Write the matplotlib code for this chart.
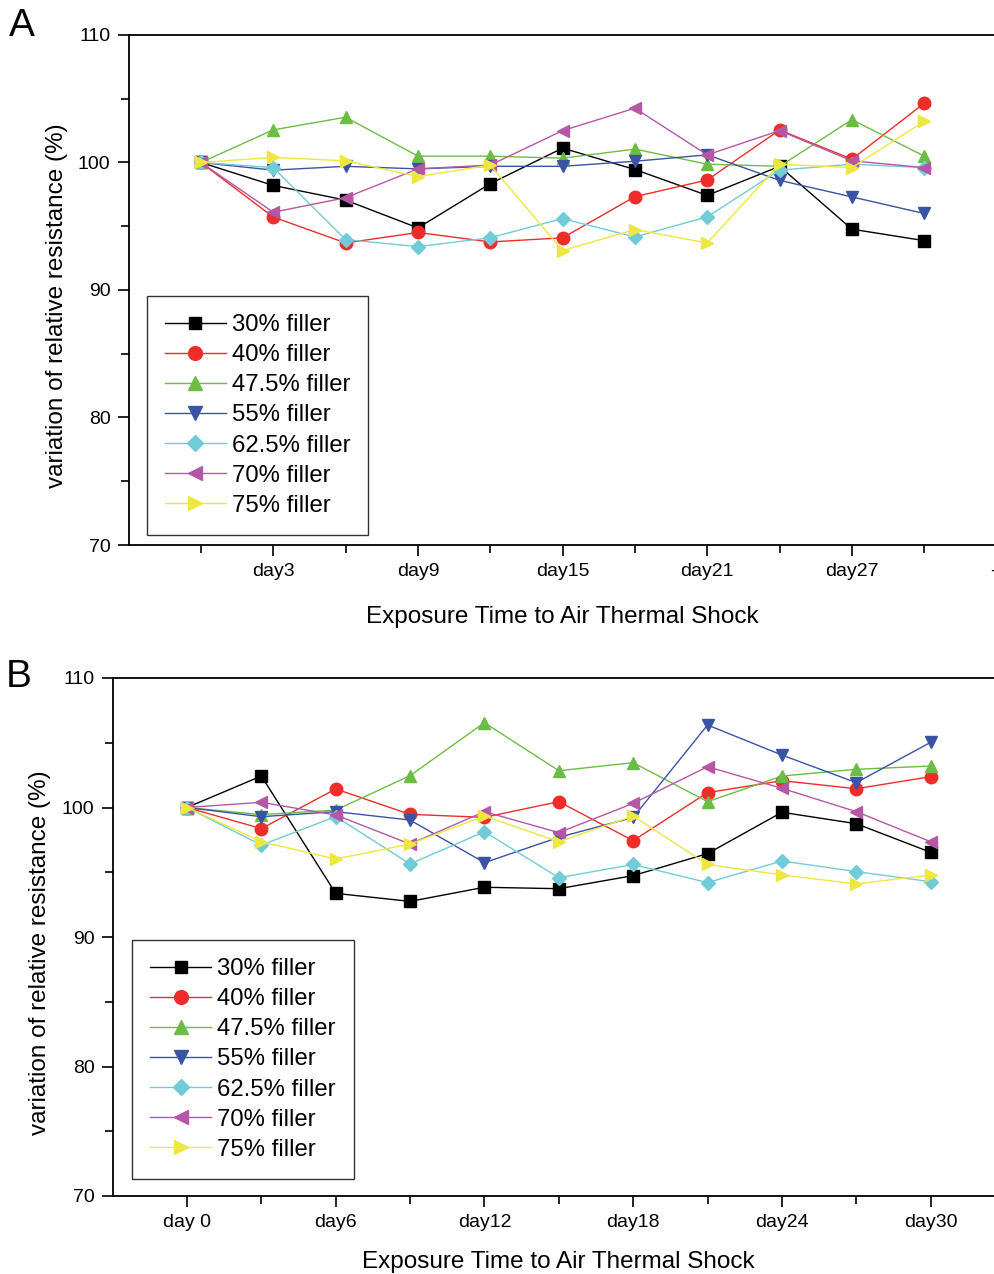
import numpy as np
import matplotlib
matplotlib.use("Agg")
import matplotlib.pyplot as plt
from matplotlib.ticker import FixedLocator

plt.rcParams['font.family'] = ['Liberation Sans', 'DejaVu Sans']

days = [0, 3, 6, 9, 12, 15, 18, 21, 24, 27, 30]
labels = ['30% filler', '40% filler', '47.5% filler', '55% filler',
          '62.5% filler', '70% filler', '75% filler']
colors = ['#000000', '#EE2D2B', '#6CBD45', '#3A53A4', '#71CCD8', '#B557A5', '#EDE73F']
markers = ['s', 'o', '^', 'v', 'D', '<', '>']

# panel A values (%)
a_30 = [100, 98.2, 97.05, 94.87, 98.34, 101.13, 99.45, 97.42, 99.7, 94.77, 93.87]
a_40 = [100, 95.72, 93.69, 94.51, 93.77, 94.09, 97.32, 98.63, 102.55, 100.26, 104.65]
a_475 = [100, 102.56, 103.55, 100.5, 100.5, 100.34, 101.05, 99.87, 99.7, 103.36, 100.5]
a_55 = [100, 99.4, 99.7, 99.5, 99.7, 99.7, 100.1, 100.6, 98.6, 97.3, 96.0]
a_625 = [100, 99.6, 93.95, 93.4, 94.1, 95.6, 94.16, 95.74, 99.4, 99.87, 99.6]
a_70 = [100, 96.1, 97.24, 99.5, 99.8, 102.5, 104.26, 100.6, 102.5, 100.13, 99.6]
a_75 = [100, 100.4, 100.13, 98.9, 99.8, 93.09, 94.74, 93.69, 99.87, 99.6, 103.23]

# panel B values (%)
b_30 = [100, 102.43, 93.37, 92.75, 93.84, 93.73, 94.74, 96.44, 99.63, 98.75, 96.54]
b_40 = [100, 98.37, 101.43, 99.47, 99.24, 100.45, 97.44, 101.15, 102.07, 101.45, 102.38]
b_475 = [100, 99.45, 99.8, 102.46, 106.55, 102.84, 103.46, 100.45, 102.43, 102.95, 103.2]
b_55 = [100, 99.29, 99.68, 99.03, 95.74, 97.7, 99.23, 106.37, 104.05, 101.92, 105.03]
b_625 = [100, 97.1, 99.3, 95.64, 98.13, 94.58, 95.6, 94.2, 95.87, 95.05, 94.27]
b_70 = [100, 100.4, 99.42, 97.18, 99.68, 98.06, 100.32, 103.15, 101.48, 99.68, 97.36]
b_75 = [100, 97.36, 96.02, 97.18, 99.34, 97.36, 99.34, 95.6, 94.79, 94.1, 94.79]

a_series = [a_30, a_40, a_475, a_55, a_625, a_70, a_75]
b_series = [b_30, b_40, b_475, b_55, b_625, b_70, b_75]

a_ticks = [3, 9, 15, 21, 27, 33]
a_ticklabels = ['day3', 'day9', 'day15', 'day21', 'day27', '-']
b_ticks = [0, 6, 12, 18, 24, 30]
b_ticklabels = ['day 0', 'day6', 'day12', 'day18', 'day24', 'day30']

W, H = 995, 1274
fig = plt.figure(figsize=(W / 100, H / 100), dpi=100)


def panel(rect, series, ticks, ticklabels, minor, leg_anchor, xlab_y, ylab_x):
    ax = fig.add_axes(rect)
    for vals, lab, c, m in zip(series, labels, colors, markers):
        ms = 7.5 if m == 'D' else (8 if m == 's' else 9)
        ax.plot(days, vals, color=c, marker=m, markersize=ms, lw=1.0,
                label=lab, markeredgecolor=c, clip_on=False)
    ax.set_xlim(-3, 33)
    ax.set_ylim(70, 110)
    ax.set_yticks([70, 80, 90, 100, 110])
    ax.yaxis.set_minor_locator(FixedLocator([75, 85, 95, 105]))
    ax.set_xticks(ticks)
    ax.set_xticklabels(ticklabels)
    ax.xaxis.set_minor_locator(FixedLocator(minor))
    ax.tick_params(which='major', direction='out', length=8, width=1.2, labelsize=14, pad=5)
    ax.tick_params(which='minor', direction='out', length=6, width=1.2)
    ax.spines['right'].set_visible(False)
    for s in ['left', 'bottom', 'top']:
        ax.spines[s].set_linewidth(1.3)
    ax.set_xlabel('Exposure Time to Air Thermal Shock', fontsize=17.5)
    ax.xaxis.set_label_coords(0.5, xlab_y)
    ax.xaxis.label.set_va('center')
    ax.set_ylabel('variation of relative resistance (%)', fontsize=17.5)
    ax.yaxis.set_label_coords(ylab_x, 0.47)
    ax.yaxis.label.set_va('center')
    leg = ax.legend(loc='upper left', bbox_to_anchor=leg_anchor, borderaxespad=0,
                    fontsize=17.2, frameon=True, fancybox=False, handlelength=2.55,
                    labelspacing=0.34, handletextpad=0.25, borderpad=0.75,
                    markerscale=1.1)
    leg.get_frame().set_edgecolor('black')
    leg.get_frame().set_linewidth(1.0)
    return ax


ax_a = panel([128.6 / W, 1 - 545 / H, (996.6 - 128.6) / W, 510 / H],
             a_series, a_ticks, a_ticklabels, [0, 6, 12, 18, 24, 30],
             (0.021, 0.488), -0.141, -0.0825)
ax_a.get_xticklabels()[-1].set_ha('right')
ax_b = panel([112.6 / W, 1 - 1196 / H, (1005 - 112.6) / W, 518 / H],
             b_series, b_ticks, b_ticklabels, [3, 9, 15, 21, 27, 33],
             (0.022, 0.494), -0.1274, -0.0814)

fig.text(9 / W, 1 - 8 / H, 'A', fontsize=28, ha='left', va='top')
fig.text(6 / W, 1 - 659 / H, 'B', fontsize=28, ha='left', va='top')

fig.savefig('out.png', dpi=100)
